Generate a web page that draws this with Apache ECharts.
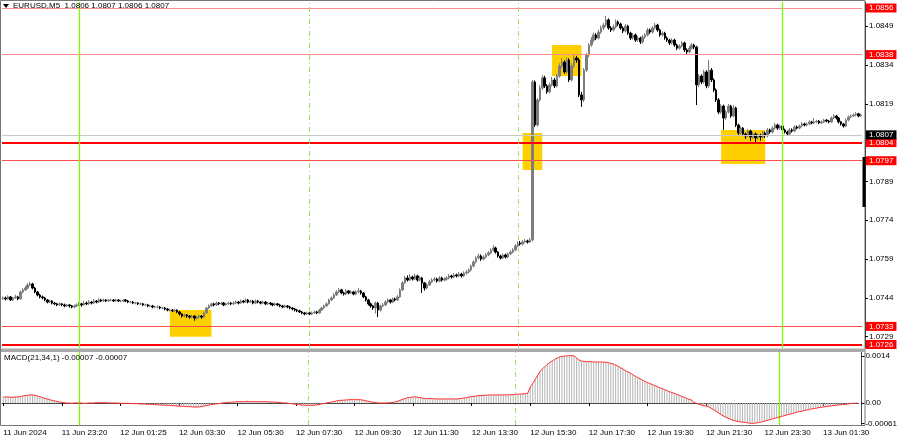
<!DOCTYPE html>
<html><head><meta charset="utf-8">
<style>html,body{margin:0;padding:0;background:#fff}#c{width:900px;height:441px}</style>
<script src="https://cdn.jsdelivr.net/npm/echarts@6.0.0/dist/echarts.min.js"></script>
</head><body><div id="c"></div>
<script>
// ---- EURUSD M5 bars (index 0 = 11 Jun 21:20) ----
const opens = [
1.07438,1.07440,1.07436,1.07444,1.07432,1.07440,1.07444,1.07436,1.07463,1.07471,
1.07478,1.07490,1.07494,1.07478,1.07463,1.07451,1.07444,1.07440,1.07432,1.07424,
1.07428,1.07420,1.07417,1.07413,1.07417,1.07413,1.07409,1.07413,1.07409,1.07405,
1.07409,1.07413,1.07417,1.07413,1.07420,1.07417,1.07424,1.07420,1.07428,1.07424,
1.07432,1.07428,1.07432,1.07428,1.07432,1.07432,1.07428,1.07432,1.07428,1.07428,
1.07432,1.07428,1.07424,1.07424,1.07420,1.07420,1.07417,1.07417,1.07413,1.07413,
1.07409,1.07409,1.07405,1.07405,1.07405,1.07401,1.07401,1.07397,1.07393,1.07393,
1.07390,1.07393,1.07386,1.07378,1.07370,1.07374,1.07370,1.07366,1.07370,1.07362,
1.07366,1.07370,1.07366,1.07382,1.07401,1.07409,1.07417,1.07413,1.07420,1.07417,
1.07420,1.07413,1.07417,1.07420,1.07417,1.07420,1.07424,1.07420,1.07428,1.07424,
1.07432,1.07424,1.07428,1.07420,1.07428,1.07424,1.07420,1.07424,1.07417,1.07420,
1.07417,1.07413,1.07417,1.07413,1.07409,1.07405,1.07409,1.07405,1.07401,1.07397,
1.07393,1.07390,1.07386,1.07382,1.07378,1.07382,1.07378,1.07382,1.07386,1.07382,
1.07393,1.07401,1.07409,1.07417,1.07432,1.07440,1.07451,1.07463,1.07471,1.07459,
1.07455,1.07467,1.07459,1.07463,1.07455,1.07463,1.07467,1.07459,1.07444,1.07432,
1.07417,1.07409,1.07401,1.07420,1.07393,1.07409,1.07413,1.07424,1.07432,1.07424,
1.07436,1.07432,1.07444,1.07471,1.07498,1.07517,1.07509,1.07521,1.07513,1.07525,
1.07509,1.07517,1.07498,1.07478,1.07490,1.07502,1.07509,1.07513,1.07505,1.07517,
1.07509,1.07513,1.07517,1.07525,1.07521,1.07529,1.07525,1.07532,1.07525,1.07536,
1.07540,1.07548,1.07563,1.07579,1.07594,1.07602,1.07590,1.07598,1.07606,1.07614,
1.07625,1.07633,1.07617,1.07602,1.07594,1.07606,1.07598,1.07610,1.07617,1.07625,
1.07641,1.07652,1.07648,1.07656,1.07660,1.07656,1.07664,1.08274,1.08108,1.08205,
1.08251,1.08290,1.08259,1.08236,1.08263,1.08282,1.08259,1.08297,1.08336,1.08351,
1.08313,1.08359,1.08282,1.08336,1.08367,1.08359,1.08224,1.08205,1.08320,1.08378,
1.08417,1.08436,1.08456,1.08444,1.08467,1.08483,1.08494,1.08514,1.08483,1.08475,
1.08487,1.08506,1.08498,1.08483,1.08471,1.08490,1.08463,1.08444,1.08456,1.08436,
1.08444,1.08429,1.08448,1.08456,1.08475,1.08467,1.08483,1.08494,1.08475,1.08456,
1.08463,1.08444,1.08436,1.08425,1.08436,1.08417,1.08405,1.08413,1.08425,1.08398,
1.08390,1.08405,1.08417,1.08409,1.08263,1.08297,1.08274,1.08313,1.08259,1.08320,
1.08282,1.08243,1.08205,1.08158,1.08181,1.08135,1.08158,1.08181,1.08143,1.08174,
1.08108,1.08077,1.08096,1.08073,1.08066,1.08085,1.08062,1.08073,1.08058,1.08069,
1.08062,1.08077,1.08066,1.08089,1.08081,1.08096,1.08108,1.08096,1.08104,1.08089,
1.08081,1.08073,1.08089,1.08085,1.08100,1.08096,1.08104,1.08112,1.08108,1.08112,
1.08120,1.08116,1.08120,1.08123,1.08116,1.08120,1.08127,1.08123,1.08120,1.08135,
1.08143,1.08135,1.08120,1.08112,1.08104,1.08127,1.08139,1.08143,1.08147,1.08151,
1.08143];
const closes = [
1.07440,1.07436,1.07444,1.07432,1.07440,1.07444,1.07436,1.07463,1.07471,1.07478,
1.07490,1.07494,1.07478,1.07463,1.07451,1.07444,1.07440,1.07432,1.07424,1.07428,
1.07420,1.07417,1.07413,1.07417,1.07413,1.07409,1.07413,1.07409,1.07405,1.07409,
1.07413,1.07417,1.07413,1.07420,1.07417,1.07424,1.07420,1.07428,1.07424,1.07432,
1.07428,1.07432,1.07428,1.07432,1.07432,1.07428,1.07432,1.07428,1.07428,1.07432,
1.07428,1.07424,1.07424,1.07420,1.07420,1.07417,1.07417,1.07413,1.07413,1.07409,
1.07409,1.07405,1.07405,1.07405,1.07401,1.07401,1.07397,1.07393,1.07393,1.07390,
1.07393,1.07386,1.07378,1.07370,1.07374,1.07370,1.07366,1.07370,1.07362,1.07366,
1.07370,1.07366,1.07382,1.07401,1.07409,1.07417,1.07413,1.07420,1.07417,1.07420,
1.07413,1.07417,1.07420,1.07417,1.07420,1.07424,1.07420,1.07428,1.07424,1.07432,
1.07424,1.07428,1.07420,1.07428,1.07424,1.07420,1.07424,1.07417,1.07420,1.07417,
1.07413,1.07417,1.07413,1.07409,1.07405,1.07409,1.07405,1.07401,1.07397,1.07393,
1.07390,1.07386,1.07382,1.07378,1.07382,1.07378,1.07382,1.07386,1.07382,1.07393,
1.07401,1.07409,1.07417,1.07432,1.07440,1.07451,1.07463,1.07471,1.07459,1.07455,
1.07467,1.07459,1.07463,1.07455,1.07463,1.07467,1.07459,1.07444,1.07432,1.07417,
1.07409,1.07401,1.07420,1.07393,1.07409,1.07413,1.07424,1.07432,1.07424,1.07436,
1.07432,1.07444,1.07471,1.07498,1.07517,1.07509,1.07521,1.07513,1.07525,1.07509,
1.07517,1.07498,1.07478,1.07490,1.07502,1.07509,1.07513,1.07505,1.07517,1.07509,
1.07513,1.07517,1.07525,1.07521,1.07529,1.07525,1.07532,1.07525,1.07536,1.07540,
1.07548,1.07563,1.07579,1.07594,1.07602,1.07590,1.07598,1.07606,1.07614,1.07625,
1.07633,1.07617,1.07602,1.07594,1.07606,1.07598,1.07610,1.07617,1.07625,1.07641,
1.07652,1.07648,1.07656,1.07660,1.07656,1.07664,1.08274,1.08108,1.08205,1.08251,
1.08290,1.08259,1.08236,1.08263,1.08282,1.08259,1.08297,1.08336,1.08351,1.08313,
1.08359,1.08282,1.08336,1.08367,1.08359,1.08224,1.08205,1.08320,1.08378,1.08417,
1.08436,1.08456,1.08444,1.08467,1.08483,1.08494,1.08514,1.08483,1.08475,1.08487,
1.08506,1.08498,1.08483,1.08471,1.08490,1.08463,1.08444,1.08456,1.08436,1.08444,
1.08429,1.08448,1.08456,1.08475,1.08467,1.08483,1.08494,1.08475,1.08456,1.08463,
1.08444,1.08436,1.08425,1.08436,1.08417,1.08405,1.08413,1.08425,1.08398,1.08390,
1.08405,1.08417,1.08409,1.08263,1.08297,1.08274,1.08313,1.08259,1.08320,1.08282,
1.08243,1.08205,1.08158,1.08181,1.08135,1.08158,1.08181,1.08143,1.08174,1.08108,
1.08077,1.08096,1.08073,1.08066,1.08085,1.08062,1.08073,1.08058,1.08069,1.08062,
1.08077,1.08066,1.08089,1.08081,1.08096,1.08108,1.08096,1.08104,1.08089,1.08081,
1.08073,1.08089,1.08085,1.08100,1.08096,1.08104,1.08112,1.08108,1.08112,1.08120,
1.08116,1.08120,1.08123,1.08116,1.08120,1.08127,1.08123,1.08120,1.08135,1.08143,
1.08135,1.08120,1.08112,1.08104,1.08127,1.08139,1.08143,1.08147,1.08151,1.08143,
1.08147];
const highs = [
1.07446,1.07445,1.07450,1.07447,1.07444,1.07452,1.07448,1.07468,1.07478,1.07486,
1.07497,1.07502,1.07498,1.07482,1.07467,1.07456,1.07449,1.07444,1.07436,1.07433,
1.07431,1.07424,1.07421,1.07422,1.07420,1.07418,1.07417,1.07416,1.07413,1.07414,
1.07419,1.07425,1.07421,1.07429,1.07426,1.07431,1.07428,1.07436,1.07432,1.07438,
1.07436,1.07437,1.07435,1.07436,1.07436,1.07435,1.07437,1.07435,1.07433,1.07436,
1.07435,1.07432,1.07429,1.07428,1.07425,1.07424,1.07422,1.07421,1.07418,1.07417,
1.07414,1.07413,1.07410,1.07411,1.07409,1.07406,1.07405,1.07401,1.07398,1.07397,
1.07398,1.07396,1.07389,1.07381,1.07379,1.07378,1.07374,1.07375,1.07373,1.07371,
1.07376,1.07374,1.07387,1.07406,1.07415,1.07422,1.07421,1.07426,1.07424,1.07425,
1.07424,1.07422,1.07426,1.07424,1.07427,1.07430,1.07428,1.07434,1.07432,1.07438,
1.07436,1.07433,1.07432,1.07434,1.07432,1.07428,1.07430,1.07428,1.07425,1.07424,
1.07421,1.07422,1.07420,1.07417,1.07413,1.07414,1.07412,1.07409,1.07405,1.07401,
1.07397,1.07394,1.07390,1.07386,1.07387,1.07386,1.07388,1.07391,1.07390,1.07398,
1.07406,1.07414,1.07423,1.07437,1.07446,1.07458,1.07470,1.07478,1.07475,1.07464,
1.07474,1.07471,1.07469,1.07467,1.07470,1.07478,1.07471,1.07463,1.07448,1.07436,
1.07422,1.07413,1.07426,1.07424,1.07414,1.07420,1.07431,1.07438,1.07436,1.07442,
1.07441,1.07451,1.07477,1.07505,1.07525,1.07527,1.07532,1.07526,1.07533,1.07530,
1.07524,1.07521,1.07502,1.07497,1.07510,1.07516,1.07521,1.07518,1.07524,1.07522,
1.07519,1.07523,1.07532,1.07530,1.07536,1.07534,1.07540,1.07537,1.07543,1.07548,
1.07555,1.07569,1.07586,1.07601,1.07611,1.07608,1.07605,1.07614,1.07621,1.07632,
1.07644,1.07638,1.07621,1.07607,1.07612,1.07611,1.07616,1.07624,1.07632,1.07648,
1.07659,1.07660,1.07664,1.07668,1.07665,1.07672,1.08282,1.08280,1.08212,1.08262,
1.08301,1.08298,1.08266,1.08272,1.08294,1.08290,1.08306,1.08346,1.08367,1.08358,
1.08370,1.08366,1.08348,1.08378,1.08375,1.08367,1.08236,1.08328,1.08386,1.08425,
1.08448,1.08465,1.08463,1.08476,1.08492,1.08503,1.08529,1.08520,1.08490,1.08496,
1.08516,1.08512,1.08503,1.08489,1.08498,1.08495,1.08468,1.08463,1.08461,1.08452,
1.08449,1.08456,1.08463,1.08483,1.08481,1.08491,1.08502,1.08499,1.08480,1.08470,
1.08468,1.08450,1.08441,1.08443,1.08441,1.08422,1.08420,1.08432,1.08430,1.08404,
1.08413,1.08424,1.08422,1.08414,1.08305,1.08304,1.08321,1.08320,1.08359,1.08328,
1.08288,1.08249,1.08212,1.08189,1.08187,1.08166,1.08189,1.08186,1.08185,1.08179,
1.08113,1.08103,1.08100,1.08079,1.08092,1.08090,1.08081,1.08079,1.08076,1.08074,
1.08085,1.08083,1.08097,1.08094,1.08104,1.08116,1.08113,1.08110,1.08108,1.08094,
1.08086,1.08096,1.08095,1.08107,1.08106,1.08110,1.08119,1.08117,1.08118,1.08126,
1.08124,1.08135,1.08128,1.08127,1.08125,1.08132,1.08131,1.08127,1.08141,1.08150,
1.08147,1.08139,1.08124,1.08116,1.08133,1.08145,1.08149,1.08153,1.08158,1.08155,
1.08152];
const lows = [
1.07432,1.07430,1.07433,1.07428,1.07429,1.07437,1.07431,1.07434,1.07458,1.07466,
1.07474,1.07485,1.07473,1.07458,1.07446,1.07438,1.07434,1.07427,1.07419,1.07420,
1.07415,1.07412,1.07408,1.07409,1.07408,1.07404,1.07405,1.07403,1.07400,1.07401,
1.07405,1.07409,1.07406,1.07410,1.07412,1.07413,1.07415,1.07417,1.07419,1.07420,
1.07424,1.07425,1.07424,1.07425,1.07427,1.07424,1.07425,1.07424,1.07423,1.07425,
1.07424,1.07420,1.07419,1.07416,1.07415,1.07412,1.07412,1.07409,1.07408,1.07404,
1.07404,1.07400,1.07400,1.07399,1.07396,1.07396,1.07392,1.07388,1.07388,1.07385,
1.07386,1.07381,1.07372,1.07364,1.07365,1.07363,1.07360,1.07361,1.07352,1.07356,
1.07360,1.07359,1.07363,1.07379,1.07397,1.07405,1.07408,1.07409,1.07412,1.07413,
1.07408,1.07409,1.07413,1.07412,1.07413,1.07416,1.07415,1.07417,1.07419,1.07421,
1.07419,1.07420,1.07415,1.07416,1.07419,1.07415,1.07416,1.07412,1.07413,1.07412,
1.07408,1.07409,1.07408,1.07404,1.07400,1.07401,1.07400,1.07396,1.07392,1.07388,
1.07385,1.07381,1.07377,1.07373,1.07374,1.07373,1.07374,1.07378,1.07377,1.07379,
1.07390,1.07397,1.07405,1.07414,1.07428,1.07436,1.07447,1.07458,1.07454,1.07449,
1.07451,1.07454,1.07455,1.07450,1.07451,1.07458,1.07453,1.07439,1.07426,1.07411,
1.07402,1.07394,1.07380,1.07366,1.07388,1.07404,1.07409,1.07419,1.07418,1.07420,
1.07426,1.07428,1.07440,1.07467,1.07494,1.07503,1.07505,1.07507,1.07509,1.07503,
1.07504,1.07459,1.07468,1.07473,1.07486,1.07497,1.07504,1.07499,1.07501,1.07503,
1.07504,1.07507,1.07512,1.07515,1.07516,1.07519,1.07520,1.07519,1.07521,1.07530,
1.07535,1.07543,1.07558,1.07574,1.07589,1.07583,1.07585,1.07593,1.07601,1.07609,
1.07620,1.07611,1.07596,1.07588,1.07590,1.07592,1.07594,1.07605,1.07612,1.07620,
1.07636,1.07642,1.07643,1.07651,1.07650,1.07652,1.07658,1.08100,1.08102,1.08198,
1.08244,1.08251,1.08228,1.08230,1.08257,1.08251,1.08253,1.08290,1.08328,1.08305,
1.08307,1.08274,1.08276,1.08328,1.08348,1.08216,1.08178,1.08197,1.08313,1.08370,
1.08410,1.08428,1.08436,1.08438,1.08460,1.08475,1.08487,1.08476,1.08467,1.08469,
1.08481,1.08490,1.08476,1.08463,1.08466,1.08456,1.08436,1.08438,1.08429,1.08430,
1.08421,1.08423,1.08441,1.08450,1.08460,1.08461,1.08477,1.08468,1.08449,1.08450,
1.08437,1.08429,1.08417,1.08419,1.08410,1.08397,1.08399,1.08408,1.08390,1.08382,
1.08385,1.08400,1.08401,1.08185,1.08255,1.08266,1.08268,1.08250,1.08252,1.08274,
1.08235,1.08197,1.08150,1.08151,1.08089,1.08128,1.08152,1.08136,1.08138,1.08100,
1.08069,1.08071,1.08065,1.08054,1.08060,1.08046,1.08054,1.08042,1.08050,1.08047,
1.08056,1.08058,1.08060,1.08074,1.08075,1.08090,1.08089,1.08090,1.08082,1.08075,
1.08066,1.08068,1.08079,1.08080,1.08091,1.08091,1.08099,1.08103,1.08103,1.08107,
1.08111,1.08111,1.08115,1.08111,1.08112,1.08116,1.08118,1.08115,1.08116,1.08131,
1.08129,1.08114,1.08106,1.08098,1.08100,1.08122,1.08135,1.08139,1.08142,1.08138,
1.08139];
// MACD(21,34,1) main values per bar
const macd = [
0.00018,0.00018,0.00018,0.00017,0.00017,0.00018,0.00018,0.00019,0.00021,0.00022,
0.00023,0.00024,0.00024,0.00023,0.00021,0.00019,0.00016,0.00014,0.00012,0.00010,
0.00008,0.00006,0.00005,0.00003,0.00002,0.00001,0.00000,0.00000,-0.00001,0.00000,
0.00000,0.00000,0.00000,-0.00001,-0.00001,0.00000,0.00000,0.00000,0.00001,0.00001,
0.00001,0.00001,0.00001,0.00000,0.00000,0.00000,0.00000,0.00000,-0.00001,-0.00001,
-0.00001,-0.00001,-0.00001,-0.00002,-0.00002,-0.00002,-0.00003,-0.00003,-0.00003,-0.00004,
-0.00004,-0.00004,-0.00005,-0.00005,-0.00006,-0.00006,-0.00006,-0.00007,-0.00007,-0.00008,
-0.00008,-0.00009,-0.00009,-0.00010,-0.00010,-0.00011,-0.00011,-0.00011,-0.00012,-0.00012,
-0.00012,-0.00011,-0.00010,-0.00008,-0.00007,-0.00005,-0.00004,-0.00003,-0.00002,-0.00001,
0.00000,0.00001,0.00002,0.00002,0.00003,0.00003,0.00004,0.00004,0.00004,0.00004,
0.00005,0.00004,0.00004,0.00004,0.00004,0.00004,0.00004,0.00004,0.00004,0.00003,
0.00003,0.00003,0.00002,0.00002,0.00001,0.00000,0.00000,-0.00001,-0.00002,-0.00003,
-0.00004,-0.00005,-0.00006,-0.00006,-0.00007,-0.00007,-0.00007,-0.00007,-0.00006,-0.00005,
-0.00004,-0.00002,-0.00001,0.00001,0.00002,0.00004,0.00005,0.00007,0.00008,0.00008,
0.00009,0.00009,0.00010,0.00010,0.00010,0.00010,0.00010,0.00009,0.00008,0.00006,
0.00005,0.00003,0.00002,0.00001,0.00000,0.00000,0.00000,0.00000,0.00001,0.00001,
0.00002,0.00004,0.00006,0.00009,0.00012,0.00014,0.00016,0.00017,0.00018,0.00018,
0.00017,0.00016,0.00014,0.00013,0.00013,0.00013,0.00013,0.00012,0.00012,0.00012,
0.00012,0.00012,0.00012,0.00012,0.00012,0.00012,0.00012,0.00013,0.00014,0.00015,
0.00016,0.00018,0.00019,0.00020,0.00021,0.00022,0.00022,0.00023,0.00023,0.00024,
0.00024,0.00024,0.00024,0.00024,0.00024,0.00024,0.00024,0.00024,0.00025,0.00025,
0.00026,0.00026,0.00027,0.00027,0.00028,0.00029,0.00048,0.00058,0.00070,0.00082,
0.00094,0.00102,0.00108,0.00115,0.00121,0.00125,0.00130,0.00134,0.00137,0.00138,
0.00140,0.00140,0.00141,0.00141,0.00140,0.00134,0.00128,0.00125,0.00124,0.00123,
0.00123,0.00123,0.00122,0.00122,0.00122,0.00122,0.00122,0.00121,0.00120,0.00118,
0.00116,0.00113,0.00109,0.00105,0.00101,0.00097,0.00093,0.00089,0.00085,0.00080,
0.00076,0.00072,0.00068,0.00064,0.00061,0.00058,0.00055,0.00052,0.00049,0.00046,
0.00043,0.00040,0.00037,0.00034,0.00031,0.00029,0.00026,0.00023,0.00020,0.00017,
0.00014,0.00011,0.00009,0.00003,-0.00001,-0.00004,-0.00006,-0.00008,-0.00009,-0.00011,
-0.00015,-0.00019,-0.00024,-0.00029,-0.00034,-0.00038,-0.00042,-0.00045,-0.00048,-0.00051,
-0.00053,-0.00055,-0.00056,-0.00057,-0.00058,-0.00059,-0.00060,-0.00061,-0.00060,-0.00059,
-0.00058,-0.00056,-0.00054,-0.00052,-0.00050,-0.00048,-0.00046,-0.00044,-0.00042,-0.00040,
-0.00038,-0.00036,-0.00034,-0.00032,-0.00030,-0.00028,-0.00026,-0.00025,-0.00023,-0.00021,
-0.00020,-0.00018,-0.00017,-0.00016,-0.00014,-0.00013,-0.00012,-0.00011,-0.00010,-0.00009,
-0.00008,-0.00007,-0.00006,-0.00005,-0.00005,-0.00004,-0.00003,-0.00002,-0.00001,-0.00001,
0.00000];

// time axis tick labels (bar index -> label)
const xTickIndex = [0,24,48,72,96,120,144,168,192,216,240,264,288,312,336];
const xTickLabels = ["11 Jun 2024","11 Jun 23:20","12 Jun 01:25","12 Jun 03:30","12 Jun 05:30","12 Jun 07:30","12 Jun 09:30","12 Jun 11:30","12 Jun 13:30","12 Jun 15:30","12 Jun 17:30","12 Jun 19:30","12 Jun 21:30","12 Jun 23:30","13 Jun 01:30"];
// price axis ticks
const yTicks = [1.0849,1.0834,1.0819,1.0789,1.0774,1.0759,1.0744,1.0729];
// MACD axis ticks
const macdTicks = [0.0014, 0, -0.00061];
const macdTickLabels = ["0.0014","0.00","-0.00061"];
// horizontal levels
const levelPrices = [1.0856, 1.0838, 1.0804, 1.0797, 1.0733, 1.0726];
const bidPrice = 1.0807;
// yellow zones: [startBar, endBar, topPrice, bottomPrice]
const zones = [[68,85,1.07393,1.07290],[212,220,1.08077,1.07934],[224,236,1.08417,1.08297],[293,311,1.08089,1.07957]];
// vertical lines (bar index)
const dayLines = [31, 318];
const sessionLines = [125, 210];
const header = "EURUSD,M5  1.0806 1.0807 1.0806 1.0807";
const macdTitle = "MACD(21,34,1) -0.00007 -0.00007";

const FONT = '"Liberation Sans", Arial, sans-serif';
const cats = closes.map((_, i) => i);
const candles = opens.map((o, i) => [o, closes[i], lows[i], highs[i]]);
const tickMap = {}; xTickIndex.forEach((k, j) => tickMap[k] = xTickLabels[j]);

const levelStyle = [
  {c:'#ff8c8c', w:1}, {c:'#ff8c8c', w:1}, {c:'#ff0000', w:2},
  {c:'#ff4d4d', w:1}, {c:'#ff4d4d', w:1}, {c:'#ff0000', w:2}
];
const priceLabel = (bg) => ({
  show: true, position: 'end', distance: 4, backgroundColor: bg, color: '#fff',
  fontSize: 8, fontFamily: FONT, padding: [1, 3, 0, 3], lineHeight: 8
});
const vLinesData = dayLines.map(i => ({xAxis: i, lineStyle: {color: '#7cfc00', width: 1.3, type: 'solid'}, label: {show: false}}))
  .concat(sessionLines.map(i => ({xAxis: i, lineStyle: {color: '#9be35a', width: 1, type: [5, 3, 1, 3]}, label: {show: false}})));

const hLinesData = levelPrices.map((p, k) => ({
  yAxis: p, lineStyle: {color: levelStyle[k].c, width: levelStyle[k].w, type: 'solid'},
  label: Object.assign(priceLabel('#ff0000'), {formatter: p.toFixed(4)})
})).concat([{
  yAxis: bidPrice, lineStyle: {color: '#c8c8c8', width: 1, type: 'solid'},
  label: Object.assign(priceLabel('#000000'), {formatter: bidPrice.toFixed(4)})
}]);

const chart = echarts.init(document.getElementById('c'), null, {renderer: 'canvas'});
chart.setOption({
  animation: false,
  backgroundColor: '#ffffff',
  textStyle: {fontFamily: FONT},
  grid: [
    {left: 2, top: 2, width: 860, height: 346},
    {left: 2, top: 352, width: 860, height: 73}
  ],
  xAxis: [
    {type: 'category', gridIndex: 0, data: cats, boundaryGap: true,
      axisLine: {show: false}, axisTick: {show: false}, axisLabel: {show: false}, splitLine: {show: false}},
    {type: 'category', gridIndex: 1, data: cats, boundaryGap: true,
      axisLine: {show: true, lineStyle: {color: '#444', width: 1}},
      axisTick: {show: true, alignWithLabel: true, length: 3, interval: (i) => tickMap[i] !== undefined, lineStyle: {color: '#000'}},
      axisLabel: {show: true, interval: (i) => tickMap[i] !== undefined, formatter: (v, i) => tickMap[i] || '',
        align: 'left', margin: 4, fontSize: 8, color: '#000', fontFamily: FONT},
      splitLine: {show: false}}
  ],
  yAxis: [
    {type: 'value', gridIndex: 0, position: 'right', offset: 3, min: 1.072465, max: 1.085832,
      splitLine: {show: false},
      axisLine: {show: true, lineStyle: {color: '#444'}},
      axisTick: {show: true, length: 3, customValues: yTicks, lineStyle: {color: '#000'}},
      axisLabel: {show: true, customValues: yTicks, formatter: v => v.toFixed(4), margin: 4, fontSize: 8, color: '#000', fontFamily: FONT}},
    {type: 'value', gridIndex: 1, position: 'right', offset: 3, min: -0.000655, max: 0.001518,
      splitLine: {show: false},
      axisLine: {show: true, lineStyle: {color: '#444'}},
      axisTick: {show: true, length: 3, customValues: macdTicks, lineStyle: {color: '#000'}},
      axisLabel: {show: true, customValues: macdTicks, margin: 4, fontSize: 8, color: '#000', fontFamily: FONT,
        formatter: v => { const k = macdTicks.findIndex(t => Math.abs(t - v) < 1e-9); return k >= 0 ? macdTickLabels[k] : ''; }}}
  ],
  series: [
    {type: 'line', xAxisIndex: 0, yAxisIndex: 0, data: closes, showSymbol: false, symbol: 'none', silent: true,
      lineStyle: {opacity: 0}, z: 1,
      markArea: {silent: true, itemStyle: {color: '#ffd000', opacity: 1},
        data: zones.map(z => [{xAxis: z[0], yAxis: z[2]}, {xAxis: z[1], yAxis: z[3]}])},
      markLine: {silent: true, precision: 6, symbol: ['none', 'none'], animation: false, data: hLinesData.concat(vLinesData)}
    },
    {type: 'candlestick', xAxisIndex: 0, yAxisIndex: 0, data: candles, barWidth: 2, z: 3,
      itemStyle: {color: '#7d7d7d', color0: '#000000', borderColor: '#7d7d7d', borderColor0: '#000000', borderWidth: 1}
    },
    {type: 'bar', xAxisIndex: 1, yAxisIndex: 1, data: macd, barWidth: 1, itemStyle: {color: '#b4b4b4'},
      markLine: {silent: true, precision: 6, symbol: ['none', 'none'], animation: false, data: vLinesData}},
    {type: 'line', xAxisIndex: 1, yAxisIndex: 1, data: macd, showSymbol: false, symbol: 'none',
      lineStyle: {color: '#ff3030', width: 1}, z: 5}
  ],
  graphic: [
    {type: 'rect', shape: {x: 0.5, y: 0.5, width: 864.5, height: 425}, style: {fill: 'none', stroke: '#777', lineWidth: 1}, z: 0},
    {type: 'rect', shape: {x: 1, y: 348.5, width: 864, height: 3.5}, style: {fill: '#a9a9a9'}, z: 10},
    {type: 'rect', shape: {x: 862.5, y: 157, width: 3, height: 50}, style: {fill: '#000'}, z: 10},
    {type: 'polygon', shape: {points: [[3, 4], [9, 4], [6, 8]]}, style: {fill: '#000'}, z: 10},
    {type: 'text', x: 13, y: 2, style: {text: header, fontSize: 8, fontFamily: FONT, fill: '#000'}, z: 10},
    {type: 'text', x: 4, y: 354, style: {text: macdTitle, fontSize: 8, fontFamily: FONT, fill: '#000'}, z: 10}
  ]
});
</script>
</body></html>
